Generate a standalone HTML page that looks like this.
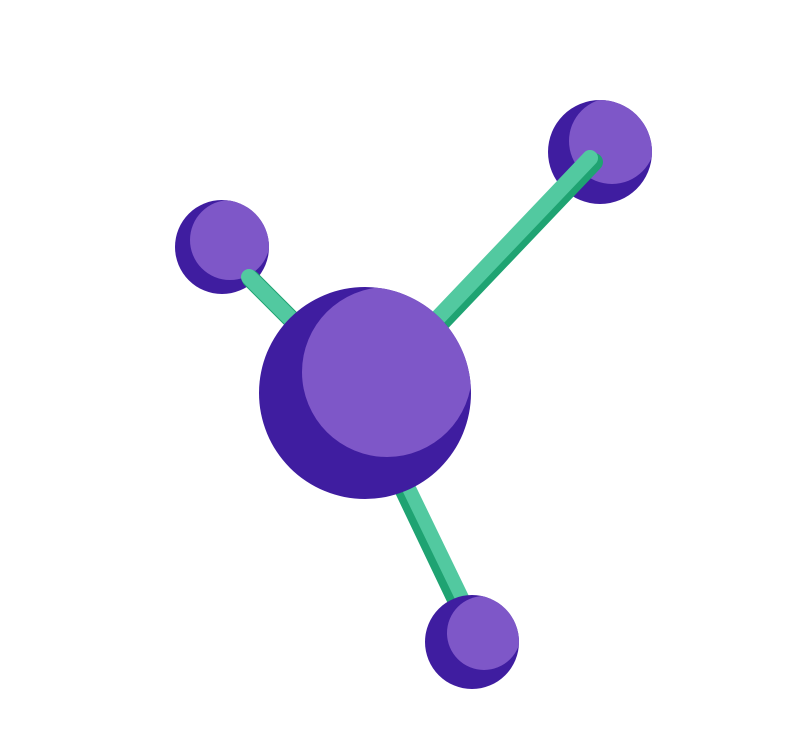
<!DOCTYPE html>
<html>
<head>
<meta charset="utf-8">
<style>
html,body{margin:0;padding:0;background:#fff;}
svg{display:block;}
</style>
</head>
<body>
<svg width="798" height="756" viewBox="0 0 798 756">
  <defs>
    <clipPath id="c-big"><circle cx="365" cy="393" r="106"/></clipPath>
    <clipPath id="c-tr"><circle cx="600" cy="152" r="52"/></clipPath>
    <clipPath id="c-l"><circle cx="222" cy="247" r="47"/></clipPath>
    <clipPath id="c-b"><circle cx="472" cy="642" r="47"/></clipPath>
  </defs>
  <g>
    <circle cx="600" cy="152" r="52" fill="#3F1DA0"/>
    <circle cx="612" cy="141" r="43" fill="#7E57C8" clip-path="url(#c-tr)"/>
  </g>
  <g>
    <circle cx="222" cy="247" r="47" fill="#3F1DA0"/>
    <circle cx="230" cy="240" r="40" fill="#7E57C8" clip-path="url(#c-l)"/>
  </g>
  <g stroke-linecap="round">
    <g>
      <line x1="594" y1="162" x2="434" y2="330" stroke="#1FA372" stroke-width="18"/>
      <line x1="590" y1="158" x2="430" y2="326" stroke="#52C9A0" stroke-width="16"/>
    </g>
    <g>
      <line x1="251" y1="279" x2="300" y2="328" stroke="#1FA372" stroke-width="18"/>
      <line x1="249" y1="277" x2="298" y2="326" stroke="#52C9A0" stroke-width="16"/>
    </g>
    <g>
      <line x1="400" y1="480" x2="462" y2="610" stroke="#1FA372" stroke-width="20"/>
      <line x1="404" y1="478" x2="466" y2="606" stroke="#52C9A0" stroke-width="14"/>
    </g>
  </g>
  <g>
    <circle cx="472" cy="642" r="47" fill="#3F1DA0"/>
    <circle cx="484" cy="633" r="37" fill="#7E57C8" clip-path="url(#c-b)"/>
  </g>
  <g>
    <circle cx="365" cy="393" r="106" fill="#3F1DA0"/>
    <circle cx="387" cy="372" r="85" fill="#7E57C8" clip-path="url(#c-big)"/>
  </g>
</svg>
</body>
</html>
